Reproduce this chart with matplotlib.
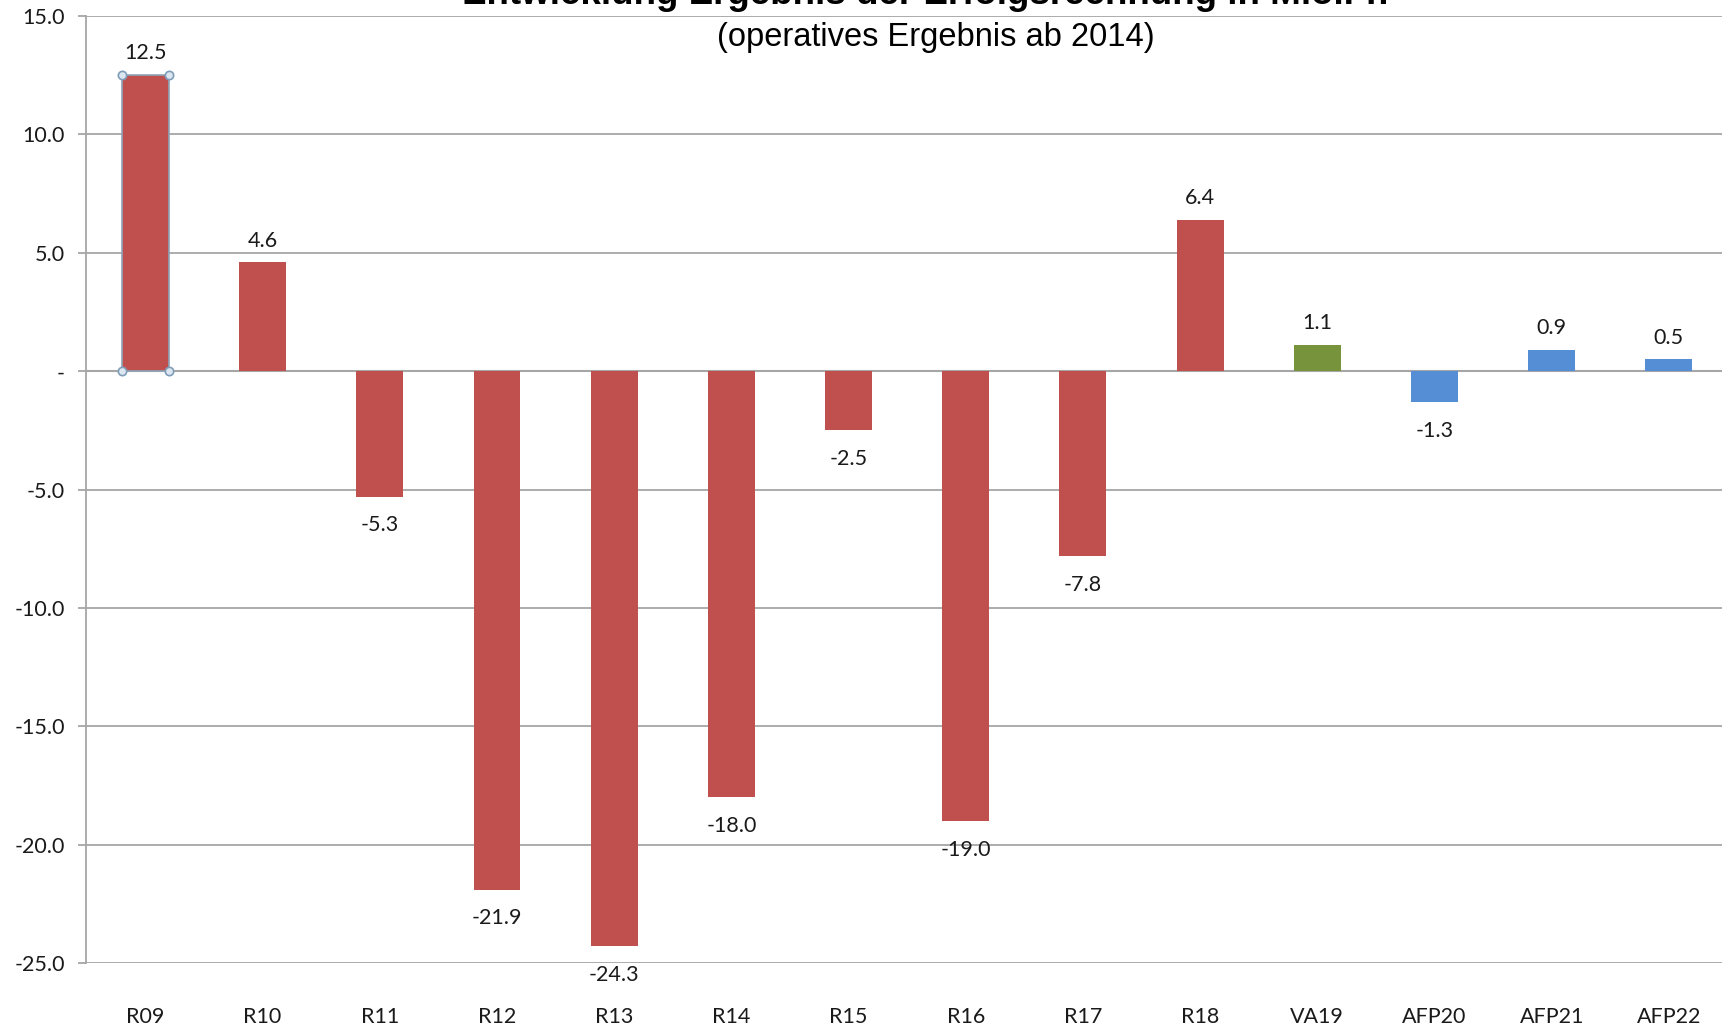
import numpy as np
import matplotlib.pyplot as plt
from matplotlib.ticker import FuncFormatter

# data (Mio. Fr.)
categories = ['R09', 'R10', 'R11', 'R12', 'R13', 'R14', 'R15', 'R16', 'R17',
              'R18', 'VA19', 'AFP20', 'AFP21', 'AFP22']
values = [12.5, 4.6, -5.3, -21.9, -24.3, -18.0, -2.5, -19.0, -7.8,
          6.4, 1.1, -1.3, 0.9, 0.5]
kinds = ['R'] * 10 + ['VA'] + ['AFP'] * 3

COLORS = {'R': '#C0504D', 'VA': '#77933C', 'AFP': '#558ED5'}
GRID = '#A6A6A6'
LABEL_FONT = ['Lato', 'DejaVu Sans']
FS = 15.5


def y_fmt(v, _):
    """Excel-style accounting format: zero shown as a dash"""
    if abs(v) < 1e-9:
        return '-'
    return f'{v:.1f}'


def plot_data():
    fig = plt.figure(figsize=(17.26, 10.27), dpi=100)
    ax = fig.add_axes([0.0498, 0.0623, 0.948, 0.922])

    x = np.arange(len(categories))
    width = 0.4
    bars = ax.bar(x, values, width=width,
                  color=[COLORS[k] for k in kinds], zorder=3)

    # selected-bar look on the first bar (outline + corner handles)
    first = bars[0]
    first.set_edgecolor('#8EA4B8')
    first.set_linewidth(1.2)
    hx = [x[0] - width / 2, x[0] + width / 2]
    ax.plot(hx + hx, [0, 0, values[0], values[0]], 'o', ms=6,
            mfc='#DCE6F0', mec='#7F9DB9', mew=1.2, zorder=4, clip_on=False)

    # value labels: above positive bars, below negative ones
    for xi, v in zip(x, values):
        if v >= 0:
            ax.annotate(f'{v:.1f}', (xi, v), xytext=(0, 8.5),
                        textcoords='offset points', ha='center', va='bottom',
                        fontsize=FS, family=LABEL_FONT, color='#1A1A1A')
        else:
            ax.annotate(f'{v:.1f}', (xi, v), xytext=(0, -13.5),
                        textcoords='offset points', ha='center', va='top',
                        fontsize=FS, family=LABEL_FONT, color='#1A1A1A')

    ax.set_xlim(-0.507, len(categories) - 0.545)
    ax.set_ylim(-25, 15)
    ax.set_yticks(np.arange(-25, 15.1, 5))
    ax.yaxis.set_major_formatter(FuncFormatter(y_fmt))
    ax.set_xticks(x)
    ax.set_xticklabels(categories)

    ax.grid(axis='y', color=GRID, linewidth=1.3, zorder=0)
    ax.axhline(0, color=GRID, linewidth=1.5, zorder=2)
    for side in ['top', 'right', 'bottom']:
        ax.spines[side].set_visible(False)
    ax.spines['left'].set_color(GRID)
    ax.spines['left'].set_linewidth(1.3)

    ax.tick_params(axis='y', length=6, width=1.3, color=GRID,
                   labelsize=FS, pad=9, labelcolor='#1A1A1A')
    ax.tick_params(axis='x', length=0, labelsize=FS, pad=31.5,
                   labelcolor='#1A1A1A')
    for lab in ax.get_xticklabels() + ax.get_yticklabels():
        lab.set_family(LABEL_FONT)

    # title is cropped at the top edge in the reference
    fig.text(0.536, 0.996, 'Entwicklung Ergebnis der Erfolgsrechnung in Mio.Fr.',
             ha='center', va='baseline', fontsize=26.5, fontweight='bold',
             family='Liberation Sans')
    fig.text(0.542, 0.963, '(operatives Ergebnis ab 2014)',
             ha='center', va='center', fontsize=23.5,
             family='Liberation Sans')

    fig.savefig('out.png', dpi=100)


if __name__ == '__main__':
    plot_data()
